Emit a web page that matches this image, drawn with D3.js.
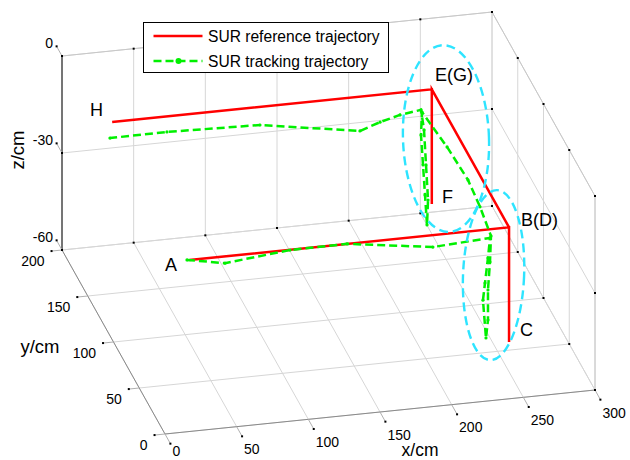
<!DOCTYPE html>
<html>
<head>
<meta charset="utf-8">
<script src="https://cdn.jsdelivr.net/npm/d3@7"></script>
<style>
  body { margin: 0; background: #fff; }
  svg { display: block; }
  text { font-family: "Liberation Sans", Arial, Helvetica, sans-serif; fill: #000; }
</style>
</head>
<body>
<svg id="chart" width="630" height="460"></svg>
<script>
// ---- axis ticks ----
const xTicks = [0, 50, 100, 150, 200, 250, 300];
const yTicks = [0, 50, 100, 150, 200];
const zTicks = [-60, -30, 0];

// ---- reference trajectory A-B-C-D-E-F-G-H (cm) ----
const refX = [35, 258, 258, 258, 258, 258, 258, 35];
const refY = [50, 50, 50, 50, 200, 200, 200, 200];
const refZ = [-22, -22, -57.5, -22, -22, -57.5, -22, -22];

// ---- tracking trajectory (cm) ----
const trkX = [33.3, 59.8, 105.2, 145.0, 204.9, 244.7, 243.3, 241.2, 239.8, 241.9, 243.3, 243.3, 244.7, 245.4,
              247.0, 249.0, 247.0, 241.0, 240.3, 241.7, 243.1, 244.5, 245.2, 243.8, 242.4, 240.3,
              226.8, 214.0, 201.4, 133.8, 70.7, 32.0];
const trkY = [50, 50, 50, 50, 50, 50, 50, 50, 50, 50, 50, 50, 50, 50,
              75.8, 104.7, 139.8, 171.7, 171.7, 171.7, 171.7, 171.7, 171.7, 171.7, 171.7, 171.7,
              175, 178, 182, 188, 193, 196];
const trkZ = [-21.9, -24.1, -22.1, -22.0, -25.7, -24.7, -30.8, -38.5, -43.7, -55.5, -50.0, -40.7, -32.1, -24.1,
              -22.5, -22.5, -22.2, -20.2, -27.3, -36.6, -46.0, -55.3, -47.6, -36.7, -25.8, -19.5,
              -21.4, -23.9, -27.2, -24.0, -24.7, -25.7];

// ---- point labels ----
const ptNames = ["A", "B(D)", "C", "E(G)", "F", "H"];
const ptX = [18, 266.3, 265.6, 260.2, 265.1, 19.5];
const ptY = [50, 50, 50, 200, 200, 200];
const ptZ = [-22.8, -20.1, -54.1, -17.7, -55.6, -17.6];

// ---- highlighted regions (centre in cm, half extents in cm along x and z) ----
const ringX = [267.9, 247.2];
const ringY = [200, 50];
const ringZ = [-37.7, -36.3];
const ringHalfX = [30, 21.3];
const ringHalfZ = [28.9, 26.3];

const legendNames = ["SUR reference trajectory", "SUR tracking trajectory"];

// ---- orthographic 3-D projection ----
const sx = d3.scaleLinear().domain([0, 300]).range([0, 1]);
const sy = d3.scaleLinear().domain([0, 200]).range([0, 1]);
const sz = d3.scaleLinear().domain([-60, 0]).range([0, 1]);
const O = [165, 434], EX = [430, -44], EY = [-103, -184], EZ = [0, -194];
function proj(x, y, z) {
  const u = sx(x), v = sy(y), w = sz(z);
  return [O[0] + u * EX[0] + v * EY[0] + w * EZ[0],
          O[1] + u * EX[1] + v * EY[1] + w * EZ[1]];
}

const svg = d3.select("#chart");
const line = d3.line();
const [x0, x1] = sx.domain(), [y0, y1] = sy.domain(), [z0, z1] = sz.domain();

function seg(g, a, b, color, w) {
  g.append("path").attr("d", line([proj(...a), proj(...b)]))
    .attr("stroke", color).attr("stroke-width", w || 1).attr("fill", "none");
}

// grid on the three back planes
const grid = svg.append("g");
const gc = "#d6d6d6";
xTicks.forEach(x => { seg(grid, [x, y1, z0], [x, y1, z1], gc); seg(grid, [x, y0, z0], [x, y1, z0], gc); });
zTicks.forEach(z => { seg(grid, [x0, y1, z], [x1, y1, z], gc); seg(grid, [x1, y0, z], [x1, y1, z], gc); });
yTicks.forEach(y => { seg(grid, [x1, y, z0], [x1, y, z1], gc); seg(grid, [x0, y, z0], [x1, y, z0], gc); });

// box edges
const box = svg.append("g");
seg(box, [x0, y1, z1], [x1, y1, z1], "#c8c8c8");
seg(box, [x1, y0, z1], [x1, y1, z1], "#c8c8c8");
seg(box, [x1, y0, z0], [x1, y0, z1], "#c8c8c8");
seg(box, [x0, y0, z0], [x1, y0, z0], "#8a8a8a");
seg(box, [x0, y0, z0], [x0, y1, z0], "#8a8a8a");
seg(box, [x0, y1, z0], [x0, y1, z1], "#000");

// tick marks
const ticks = svg.append("g");
function dot(p) {
  ticks.append("rect").attr("x", p[0] - 1).attr("y", p[1] - 1).attr("width", 2).attr("height", 2).attr("fill", "#000");
}
const xTickEnds = xTicks.map(x => {
  const a = [x, y0, z0], b = [x, y0 - 10.5, z0];
  seg(ticks, a, b, "#b0b0b0"); const e = proj(...b); dot(e); return e;
});
const yTickEnds = yTicks.map(y => {
  const a = [x0, y, z0], b = [x0 - 7.3, y, z0];
  seg(ticks, a, b, "#b0b0b0"); const e = proj(...b); dot(e); return e;
});
const zTickEnds = zTicks.map(z => {
  const a = [x0, y1, z], b = [x0, y1 + 10.5, z];
  seg(ticks, a, b, "#b0b0b0"); const e = proj(...b); dot(e); return e;
});
xTicks.forEach(x => { dot(proj(x, y1, z1)); dot(proj(x, y1, z0)); });
yTicks.forEach(y => { dot(proj(x1, y, z1)); dot(proj(x1, y, z0)); });
zTicks.forEach(z => { dot(proj(x1, y0, z)); dot(proj(x1, y1, z)); dot(proj(x0, y1, z)); });

// tick labels
const lab = svg.append("g").attr("font-size", 14);
xTicks.forEach((x, i) => lab.append("text").text(x)
  .attr("x", xTickEnds[i][0] + 2).attr("y", Math.min(xTickEnds[i][1] + 13, 451))
  .attr("text-anchor", "start").attr("dominant-baseline", "central"));
yTicks.forEach((y, i) => lab.append("text").text(y)
  .attr("x", yTickEnds[i][0] - 7).attr("y", yTickEnds[i][1] + 10)
  .attr("text-anchor", "end").attr("dominant-baseline", "central"));
zTicks.forEach((z, i) => lab.append("text").text(z)
  .attr("x", zTickEnds[i][0] - 3.5).attr("y", zTickEnds[i][1] - 3)
  .attr("text-anchor", "end").attr("dominant-baseline", "central"));

// axis titles
const titles = svg.append("g").attr("font-size", 18.5).attr("text-anchor", "middle").attr("dominant-baseline", "central");
titles.append("text").text("x/cm").attr("x", 420).attr("y", 450).attr("font-size", 17.5);
titles.append("text").text("y/cm").attr("x", 40).attr("y", 346);
titles.append("text").text("z/cm").attr("transform", "translate(17,150) rotate(-90)");

// reference trajectory
const refPts = refX.map((x, i) => proj(x, refY[i], refZ[i]));
svg.append("path").attr("d", line(refPts))
  .attr("fill", "none").attr("stroke", "#ff0000").attr("stroke-width", 2.5)
  .attr("stroke-linejoin", "miter");

// tracking trajectory
const trkPts = trkX.map((x, i) => proj(x, trkY[i], trkZ[i]));
svg.append("path").attr("d", line(trkPts))
  .attr("fill", "none").attr("stroke", "#00f000").attr("stroke-width", 2.5)
  .attr("stroke-dasharray", "8,4");
svg.append("g").selectAll("circle").data(trkPts).join("circle")
  .attr("cx", d => d[0]).attr("cy", d => d[1]).attr("r", 1.6).attr("fill", "#00f000");

// highlighted regions
const rings = svg.append("g");
ringX.forEach((x, i) => {
  const c = proj(x, ringY[i], ringZ[i]);
  const rx = Math.abs(proj(x + ringHalfX[i], ringY[i], ringZ[i])[0] - c[0]);
  const ry = Math.abs(proj(x, ringY[i], ringZ[i] + ringHalfZ[i])[1] - c[1]);
  rings.append("ellipse").attr("cx", c[0]).attr("cy", c[1]).attr("rx", rx).attr("ry", ry)
    .attr("transform", `rotate(${i === 0 ? -2 : 2.4},${c[0]},${c[1]})`)
    .attr("fill", "none").attr("stroke", "#2ee4ff").attr("stroke-width", 2.4)
    .attr("stroke-dasharray", "9,5");
});

// point labels
const pl = svg.append("g").attr("font-size", 18);
ptNames.forEach((n, i) => {
  const p = proj(ptX[i], ptY[i], ptZ[i]);
  pl.append("text").text(n).attr("x", p[0]).attr("y", p[1])
    .attr("text-anchor", "start").attr("dominant-baseline", "central");
});

// legend
const lg = svg.append("g").attr("transform", "translate(143.5,22.5)");
lg.append("rect").attr("width", 245).attr("height", 50).attr("fill", "#fff").attr("stroke", "#000").attr("stroke-width", 1);
lg.append("line").attr("x1", 10).attr("x2", 59).attr("y1", 13.5).attr("y2", 13.5)
  .attr("stroke", "#ff0000").attr("stroke-width", 2.5);
lg.append("line").attr("x1", 10).attr("x2", 59).attr("y1", 38.5).attr("y2", 38.5)
  .attr("stroke", "#00f000").attr("stroke-width", 2.5).attr("stroke-dasharray", "8,4");
lg.append("circle").attr("cx", 35).attr("cy", 38.5).attr("r", 3).attr("fill", "#00f000");
legendNames.forEach((n, i) => lg.append("text").text(n)
  .attr("x", 64.5).attr("y", 13.5 + i * 25).attr("font-size", 15.6).attr("dominant-baseline", "central"));
</script>
</body>
</html>
